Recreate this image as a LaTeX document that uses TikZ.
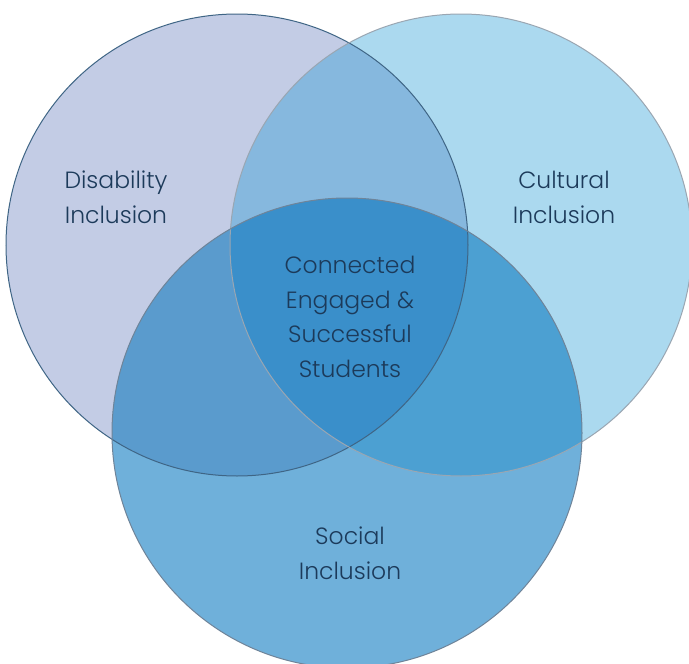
\documentclass[tikz,border=0pt]{standalone}
\usepackage{fontspec}
\setmainfont{Poppins}[UprightFont=* Light]
\definecolor{txt}{HTML}{1C3A5A}
\definecolor{fD}{HTML}{C3CCE5}
\definecolor{fC}{HTML}{ABD9EF}
\definecolor{fS}{HTML}{6FB0DA}
\definecolor{fDC}{HTML}{86B8DE}
\definecolor{fDS}{HTML}{5A9BCD}
\definecolor{fCS}{HTML}{4CA0D2}
\definecolor{fDCS}{HTML}{3A8FCA}
\definecolor{bD}{HTML}{3F6585}
\definecolor{bC}{HTML}{9AA6B2}
\definecolor{bS}{HTML}{6F8499}
\tikzset{
  lbl/.style={text=txt, align=center, inner sep=0pt, anchor=base,
    font=\fontsize{23.5}{34.5}\selectfont},
  rim/.style={line width=1pt}
}
\begin{document}
\begin{tikzpicture}[x=1pt,y=-1pt]
\useasboundingbox (0,0) rectangle (689,664);
\clip (0,0) rectangle (689,664);
\def\Dc{(237,245) circle[radius=231]}
\def\Cc{(461,245) circle[radius=231]}
\def\Sc{(347,433) circle[radius=235]}
\fill[white] (0,0) rectangle (689,664);
\fill[fD] \Dc;
\fill[fC] \Cc;
\fill[fS] \Sc;
\begin{scope}
  \clip \Cc;
  \fill[fCS] \Sc;
\end{scope}
\begin{scope}
  \clip \Dc;
  \fill[fDC] \Cc;
  \fill[fDS] \Sc;
  \clip \Cc;
  \fill[fDCS] \Sc;
\end{scope}
\draw[rim, bD] \Dc;
\draw[rim, bC] \Cc;
\draw[rim, bS] \Sc;
\node[lbl] (dis) at (116,223) {Disability\\Inclusion};
\node[lbl] (cul) at (564,223) {Cultural\\Inclusion};
\node[lbl] (cen) at (350,377) {Connected\\Engaged \&\\Successful\\Students};
\node[lbl] (soc) at (350,579) {Social\\Inclusion};
\end{tikzpicture}
\end{document}
